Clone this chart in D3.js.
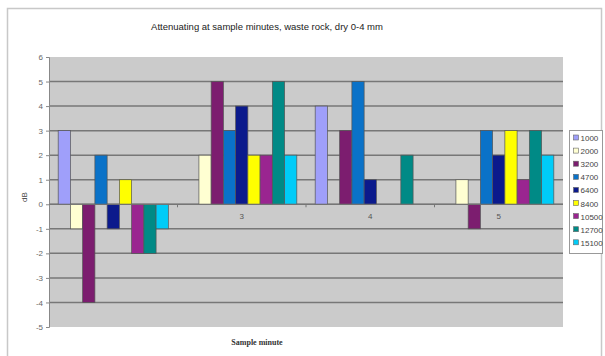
<!DOCTYPE html>
<html>
<head>
<meta charset="utf-8">
<script src="https://cdn.jsdelivr.net/npm/d3@7"></script>
<style>
  body { margin: 0; background: #fff; }
  text { font-family: Arial, "Liberation Sans", sans-serif; }
</style>
</head>
<body>
<script>
// data
var minutes = ["2", "3", "4", "5"];
var frequencies = ["1000", "2000", "3200", "4700", "6400", "8400", "10500", "12700", "15100"];
var db1000  = [3, 0, 4, 0];
var db2000  = [-1, 2, 0, 1];
var db3200  = [-4, 5, 3, -1];
var db4700  = [2, 3, 5, 3];
var db6400  = [-1, 4, 1, 2];
var db8400  = [1, 2, 0, 3];
var db10500 = [-2, 2, 0, 1];
var db12700 = [-2, 5, 2, 3];
var db15100 = [-1, 2, 0, 2];
var yTicks = [-5, -4, -3, -2, -1, 0, 1, 2, 3, 4, 5, 6];

var seriesValues = [db1000, db2000, db3200, db4700, db6400, db8400, db10500, db12700, db15100];
var colors = ["#9f9ffa", "#ffffd2", "#7c1d6f", "#0a72c8", "#0b1a8c", "#ffff00", "#9a2590", "#008a86", "#00ccf8"];

var W = 605, H = 356;
var margin = {top: 57, left: 49},
    width = 563 - margin.left,
    height = 327 - margin.top;

var svg = d3.select("body").append("svg")
  .attr("width", W)
  .attr("height", H);

// chart border
svg.append("rect")
  .attr("x", 7.5).attr("y", 8.5)
  .attr("width", 594).attr("height", 360)
  .attr("fill", "#fff")
  .attr("stroke", "#c8c8c8")
  .attr("stroke-width", 1.5);

var g = svg.append("g").attr("transform", "translate(" + margin.left + "," + margin.top + ")");

// scales (150% gap width: 9 bars + 1.5 bar widths of gap)
var x0 = d3.scaleBand().domain(minutes).range([0, width]);
var x1 = d3.scaleBand().domain(frequencies)
  .range([x0.bandwidth() * 0.75 / 10.5, x0.bandwidth() * (1 - 0.75 / 10.5)]);
var y = d3.scaleLinear().domain([-5, 6]).range([height, 0]);

// plot background
g.append("rect")
  .attr("width", width).attr("height", height)
  .attr("fill", "#cbcbcb");

// gridlines
g.selectAll(".grid").data(yTicks.filter(function(d){ return d > -5 && d < 6; }))
  .enter().append("line")
  .attr("x1", 0).attr("x2", width)
  .attr("y1", function(d){ return y(d); })
  .attr("y2", function(d){ return y(d); })
  .attr("stroke", "#777")
  .attr("stroke-width", 1.5);

// y axis
var yAxis = g.append("g")
  .call(d3.axisLeft(y).tickValues(yTicks).tickSize(3).tickFormat(function(d){ return String(d); }));
yAxis.select(".domain").attr("stroke", "#888");
yAxis.selectAll(".tick line").attr("stroke", "#888");
yAxis.selectAll("text").attr("fill", "#666").style("font-size", "8px").attr("x", -6);

// category labels (drawn before bars, Excel style)
g.selectAll(".cat").data(minutes)
  .enter().append("text")
  .attr("x", function(d){ return x0(d) + x0.bandwidth() / 2; })
  .attr("y", y(0) + 15)
  .attr("text-anchor", "middle")
  .attr("fill", "#555")
  .style("font-size", "8px")
  .text(function(d){ return d; });

// category ticks on zero line
g.selectAll(".ctick").data(minutes.slice(1))
  .enter().append("line")
  .attr("x1", function(d){ return x0(d); })
  .attr("x2", function(d){ return x0(d); })
  .attr("y1", y(0)).attr("y2", y(0) + 3)
  .attr("stroke", "#777");

// bars
var groups = g.selectAll(".grp").data(minutes)
  .enter().append("g")
  .attr("transform", function(d){ return "translate(" + x0(d) + ",0)"; });

groups.selectAll("rect")
  .data(function(m, mi){
    return frequencies.map(function(f, fi){ return {f: f, v: seriesValues[fi][mi], c: colors[fi]}; });
  })
  .enter().filter(function(d){ return d.v !== 0; }).append("rect")
  .attr("x", function(d){ return x1(d.f); })
  .attr("width", x1.bandwidth())
  .attr("y", function(d){ return y(Math.max(0, d.v)); })
  .attr("height", function(d){ return Math.abs(y(d.v) - y(0)); })
  .attr("fill", function(d){ return d.c; })
  .attr("stroke", "#555")
  .attr("stroke-width", 0.7);

// zero line
g.append("line")
  .attr("x1", 0).attr("x2", width)
  .attr("y1", y(0)).attr("y2", y(0))
  .attr("stroke", "#777").attr("stroke-width", 1);

// title
svg.append("text")
  .attr("x", 267).attr("y", 30)
  .attr("text-anchor", "middle")
  .style("font-size", "9.5px")
  .attr("fill", "#222")
  .text("Attenuating at sample minutes, waste rock, dry 0-4 mm");

// axis titles
svg.append("text")
  .attr("x", 257).attr("y", 345)
  .attr("text-anchor", "middle")
  .style("font-size", "8px")
  .style("font-weight", "bold")
  .style("font-family", "'Liberation Serif', serif")
  .attr("fill", "#333")
  .text("Sample minute");

svg.append("text")
  .attr("transform", "translate(27,197) rotate(-90)")
  .attr("text-anchor", "middle")
  .style("font-size", "8px")
  .attr("fill", "#444")
  .text("dB");

// legend
var legend = svg.append("g").attr("transform", "translate(569.5,130.5)");
legend.append("rect")
  .attr("width", 33).attr("height", 123)
  .attr("fill", "#fff").attr("stroke", "#999");
var items = legend.selectAll(".item").data(frequencies)
  .enter().append("g")
  .attr("transform", function(d, i){ return "translate(4," + (9 + i * 13.1) + ")"; });
items.append("rect")
  .attr("x", 0).attr("y", -4.5)
  .attr("width", 5).attr("height", 5)
  .attr("fill", function(d, i){ return colors[i]; })
  .attr("stroke", "#666").attr("stroke-width", 0.6);
items.append("text")
  .attr("x", 7).attr("y", 1.5)
  .style("font-size", "8px")
  .attr("fill", "#444")
  .text(function(d){ return d; });
</script>
</body>
</html>
